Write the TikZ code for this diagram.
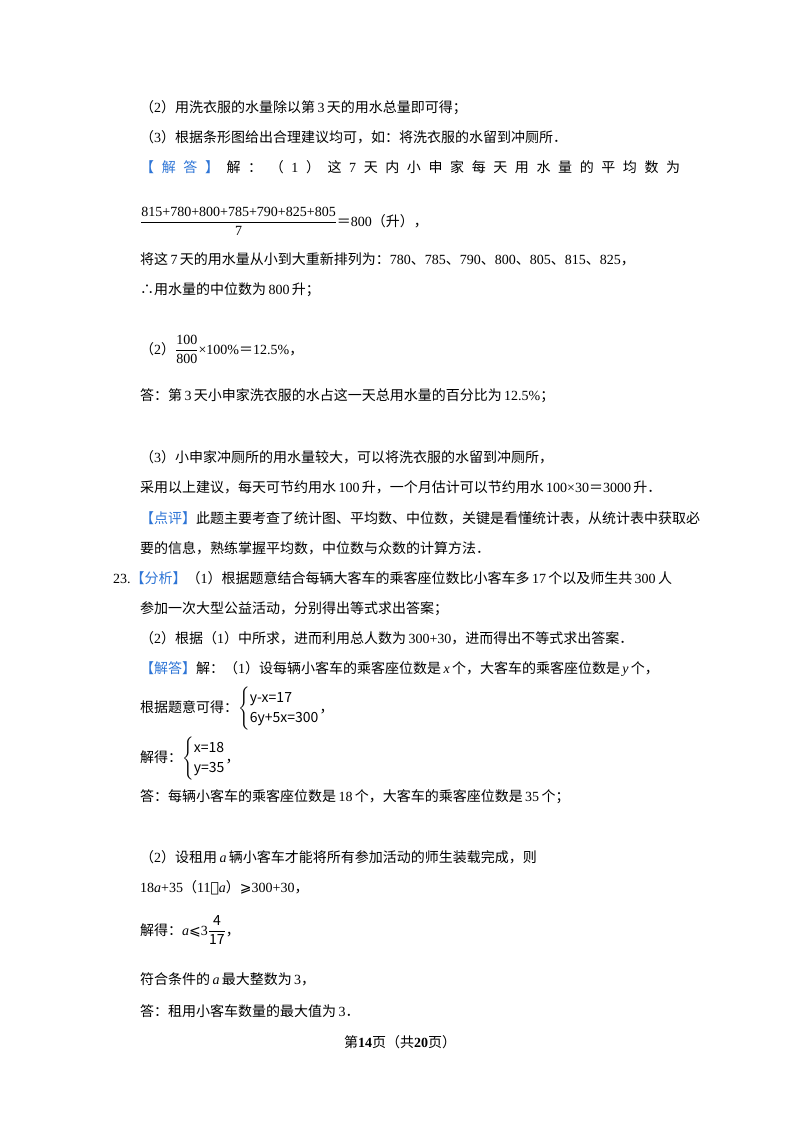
\documentclass[tikz,border=0pt]{standalone}
\usepackage{fontspec}
\usepackage{amsmath}
\setmainfont{Noto Sans CJK SC}
\newfontfamily\lat{Liberation Serif}
\newfontfamily\dv{DejaVu Sans}
\newcommand{\LL}[1]{{\lat #1}}
\newcommand{\LI}[1]{{\lat\itshape #1}}
\definecolor{hl}{HTML}{2E75D6}
\newcommand{\HL}[1]{\textcolor{hl}{#1}}
\newcommand{\hf}{\hfill}
\begin{document}
\begin{tikzpicture}[x=1pt,y=-1pt,
  ln/.style={anchor=base west,inner sep=0pt,font=\fontsize{14}{17}\selectfont}]
\useasboundingbox (0,0) rectangle (800,1132);
\fill[white] (0,0) rectangle (800,1132);
\node[ln] (l1) at (140,112) {（\LL{2}）用洗衣服的水量除以第\LL{\,3\,}天的用水总量即可得；};
\node[ln] (l2) at (140,142) {（\LL{3}）根据条形图给出合理建议均可，如：将洗衣服的水留到冲厕所．};
\node[ln] (l3) at (140,172) {\hbox to 540pt{\HL{【}\hf \HL{解}\hf \HL{答}\hf \HL{】}\hf 解\hf ：\hf （\hf \LL{1}\hf ）\hf 这\hf \LL{7}\hf 天\hf 内\hf 小\hf 申\hf 家\hf 每\hf 天\hf 用\hf 水\hf 量\hf 的\hf 平\hf 均\hf 数\hf 为}};
\node[ln] (l4) at (140,226) {$\dfrac{\text{\lat 815+780+800+785+790+825+805}}{\text{\lat 7}}$＝\LL{800}（升），};
\node[ln] (l5) at (140,264) {将这\LL{\,7\,}天的用水量从小到大重新排列为：\LL{780}、\LL{785}、\LL{790}、\LL{800}、\LL{805}、\LL{815}、\LL{825}，};
\node[ln] (l6) at (140,294) {∴用水量的中位数为\LL{\,800\,}升；};
\node[ln] (l7) at (140,354) {（\LL{2}）$\dfrac{\text{\lat 100}}{\text{\lat 800}}$\LL{×100\%}＝\LL{12.5\%}，};
\node[ln] (l8) at (140,400) {答：第\LL{\,3\,}天小申家洗衣服的水占这一天总用水量的百分比为\LL{\,12.5\%}；};
\node[ln] (l9) at (140,462) {（\LL{3}）小申家冲厕所的用水量较大，可以将洗衣服的水留到冲厕所，};
\node[ln] (l10) at (140,492) {采用以上建议，每天可节约用水\LL{\,100\,}升，一个月估计可以节约用水\LL{\,100×30}＝\LL{3000\,}升．};
\node[ln] (l11) at (140,523) {\HL{【点评】}此题主要考查了统计图、平均数、中位数，关键是看懂统计表，从统计表中获取必};
\node[ln] (l12) at (140,553) {要的信息，熟练掌握平均数，中位数与众数的计算方法．};
\node[ln] (l13) at (113,583) {\LL{23.}\HL{【分析】}（\LL{1}）根据题意结合每辆大客车的乘客座位数比小客车多\LL{\,17\,}个以及师生共\LL{\,300\,}人};
\node[ln] (l14) at (140,613) {参加一次大型公益活动，分别得出等式求出答案；};
\node[ln] (l15) at (140,643) {（\LL{2}）根据（\LL{1}）中所求，进而利用总人数为\LL{\,300+30}，进而得出不等式求出答案．};
\node[ln] (l16) at (140,673) {\HL{【解答】}解：（\LL{1}）设每辆小客车的乘客座位数是\LI{\,x\,}个，大客车的乘客座位数是\LI{\,y\,}个，};
\node[ln] (l17) at (140,712) {根据题意可得：$\begin{cases}\text{y-x=17}\\ \text{6y+5x=300}\end{cases}$\hspace{-14pt}，};
\node[ln] (l18) at (140,762) {解得：$\begin{cases}\text{x=18}\\ \text{y=35}\end{cases}$\hspace{-14pt}，};
\node[ln] (l19) at (140,801) {答：每辆小客车的乘客座位数是\LL{\,18\,}个，大客车的乘客座位数是\LL{\,35\,}个；};
\node[ln] (l20) at (140,862) {（\LL{2}）设租用\LI{\,a\,}辆小客车才能将所有参加活动的师生装载完成，则};
\node[ln] (l21) at (140,892) {\LL{18}\LI{a}\LL{+35}（\LL{11}{\dv ﹣}\LI{a}）{\dv ⩾}\LL{300+30}，};
\node[ln] (l22) at (140,935) {解得：\LI{a}{\dv ⩽}\LL{3}$\dfrac{\text{4}}{\text{17}}$，};
\node[ln] (l23) at (140,984) {符合条件的\LI{\,a\,}最大整数为\LL{\,3}，};
\node[ln] (l24) at (140,1016) {答：租用小客车数量的最大值为\LL{\,3}．};
\node[ln,anchor=base] (l25) at (400,1047) {第\textbf{\LL{14}}页（共\textbf{\LL{20}}页）};
\end{tikzpicture}
\end{document}
